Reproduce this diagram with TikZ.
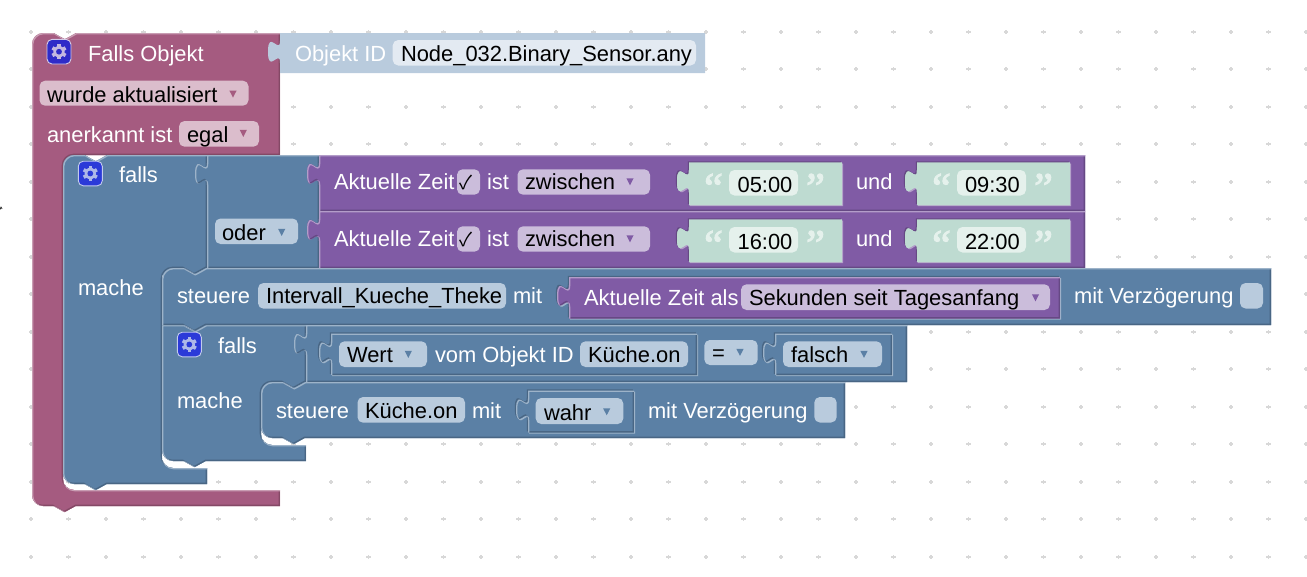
\documentclass[tikz,border=0pt]{standalone}
\usepackage{fontspec}
\setmainfont{Liberation Sans}
\newfontfamily\qfont{Liberation Serif}[FakeBold=2.5]
\newfontfamily\ckfont{Noto Sans CJK SC}
\definecolor{pinkb}{HTML}{A55B80}\definecolor{pinkd}{HTML}{844966}\definecolor{pinkl}{HTML}{C99DB3}\definecolor{pinkf}{HTML}{DBBDCC}
\definecolor{blueb}{HTML}{5B80A5}\definecolor{blued}{HTML}{496684}\definecolor{bluel}{HTML}{9DB3C9}\definecolor{bluef}{HTML}{B9CBDD}
\definecolor{purb}{HTML}{805BA5}\definecolor{purd}{HTML}{664984}\definecolor{purl}{HTML}{B39DC9}\definecolor{purf}{HTML}{CBBDDB}
\definecolor{grnb}{HTML}{BEDBD1}\definecolor{grnf}{HTML}{E5F1EC}
\definecolor{idb}{HTML}{B9CBDD}\definecolor{idf}{HTML}{E3EAF2}
\definecolor{dotc}{HTML}{D8D8D8}
\definecolor{iconA}{HTML}{2F2BC8}\definecolor{cogA}{HTML}{C4B8E0}
\definecolor{iconB}{HTML}{2B3AD8}\definecolor{cogB}{HTML}{AEB8E8}
\tikzset{
  lab/.style={anchor=base west,inner sep=0pt,outer sep=0pt,yshift=-.6pt,font=\fontsize{21.9}{24}\selectfont},
  wht/.style={lab,text=white},
  blk/.style={lab,text=black},
  quo/.style={anchor=base west,inner sep=0pt,text=grnf,font=\qfont\fontsize{42}{42}\selectfont},
}
% tab going upwards, ends at (x,y0)
\newcommand\tabup[2]{.. controls (#1,#2+7.5) and (#1-12,#2+34.5) .. (#1-12,#2+11.25) .. controls (#1-12,#2-12) and (#1,#2+15) .. (#1,#2)}
\newcommand\valpath[4]{(#1,#2) -- (#3,#2) -- (#3,#4) -- (#1,#4) -- (#1,#2+30) \tabup{#1}{#2+7.5} -- cycle}
% notch, going rightwards (top edge) from x at height y
\newcommand\nr[2]{-- (#1+21.5,#2) -- (#1+30.5,#2+5) .. controls (#1+32.5,#2+6.5) .. (#1+35,#2+5) -- (#1+44,#2)}
% notch going leftwards
\newcommand\nl[2]{-- (#1+44,#2) -- (#1+35,#2+5) .. controls (#1+32.5,#2+6.5) .. (#1+30.5,#2+5) -- (#1+21.5,#2)}
% round corner from the current point (x0,y0) about the corner (cx,cy) to (x1,y1)
\newcommand\rc[6]{.. controls ({#1+.55*(#3-#1)},{#2+.55*(#4-#2)}) and ({#5+.55*(#3-#5)},{#6+.55*(#4-#6)}) .. (#5,#6)}
\newcommand\block[4]{\begin{scope}
  \clip #4;
  \fill[#1] #4;
  \begin{scope}[shift={(-.65,-.65)}]\draw[#2,line width=1.3pt] #4;\end{scope}
  \begin{scope}[shift={(.65,.65)}]\draw[#3,line width=1.3pt] #4;\end{scope}
\end{scope}}
% value block seated in a parent socket
\newcommand\seated[9]{%
  \begin{scope}[shift={(-1.2,-1.2)}]\fill[#8] \valpath{#1}{#2}{#3}{#4};\end{scope}
  \begin{scope}[shift={(1.2,1.2)}]\fill[#9] \valpath{#1}{#2}{#3}{#4};\end{scope}
  \block{#5}{#6}{#7}{\valpath{#1}{#2}{#3}{#4}}}
% field: x1 y1 x2 y2 colour
\newcommand\fld[5]{\fill[#5,rounded corners=5.5pt] (#1,#2) rectangle (#3,#4);}
\newcommand\drop[3]{\fill[#3] (#1-3.6,#2-3.4) -- (#1+3.6,#2-3.4) -- (#1,#2+3.6) -- cycle;}
\newcommand\gearicon[4]{\begin{scope}[shift={(#1,#2)}]
  \filldraw[draw=#4!75!white,fill=#3,line width=.9pt,rounded corners=5pt] (-12,-12.3) rectangle (12,12.3);
  \foreach \a in {30,90,...,330}{\draw[#4,line width=3.6pt] (0,0) -- (\a:7.6);}
  \fill[#4] (0,0) circle[radius=5.7];
  \fill[#3] (0,0) circle[radius=2.9];
\end{scope}}
\begin{document}
\begin{tikzpicture}[x=1pt,y=-1pt]
\useasboundingbox (0,0) rectangle (1307,576);
% grid dots
\foreach \i in {0,...,34}{\foreach \j in {0,...,14}{
  \fill[dotc] ({31+37.5*\i-2.2},{31.7+37.5*\j-.8}) rectangle ({31+37.5*\i+2.2},{31.7+37.5*\j+.8});
  \fill[dotc] ({31+37.5*\i-.8},{31.7+37.5*\j-2.2}) rectangle ({31+37.5*\i+.8},{31.7+37.5*\j+2.2});
}}
\draw[black,line width=.6pt] (0,209.5) -- (1,207) -- (2.2,209);
% pink hat block
\block{pinkb}{pinkd}{pinkl}{(32,44) \rc{32}{44}{32}{33}{43}{33} \nr{32}{33} -- (280,33) -- (280,155) -- (74,155) \rc{74}{155}{63}{155}{63}{166} -- (63,479) \rc{63}{479}{63}{490}{74}{490} -- (280,490) -- (280,506) \nl{32}{506} -- (43,506) \rc{43}{506}{32}{506}{32}{495} -- cycle}
% Objekt ID block
\fill[idb] \valpath{280}{33}{705}{73};
% outer falls
\block{blueb}{blued}{bluel}{(63,166) \rc{63}{166}{63}{155}{74}{155} \nr{63}{155} -- (207,155) -- (207,268) \nl{162}{268} -- (173,268) \rc{173}{268}{162}{268}{162}{279} -- (162,457) \rc{162}{457}{162}{468}{173}{468} -- (207,468) -- (207,484) \nl{63}{484} -- (74,484) \rc{74}{484}{63}{484}{63}{473} -- cycle}
% oder
\block{blueb}{blued}{bluel}{\valpath{207}{155}{319}{268}}
% time blocks
\block{purb}{purd}{purl}{\valpath{319}{155}{1085}{211}}
\block{purb}{purd}{purl}{\valpath{319}{211}{1085}{268}}
\seated{689}{162.5}{842}{205}{grnb}{grnb}{grnb}{purd}{purl}
\seated{917}{162.5}{1070}{205}{grnb}{grnb}{grnb}{purd}{purl}
\seated{689}{219.5}{842}{262}{grnb}{grnb}{grnb}{purd}{purl}
\seated{917}{219.5}{1070}{262}{grnb}{grnb}{grnb}{purd}{purl}
% inner falls
\block{blueb}{blued}{bluel}{(162,325) \nr{162}{325} -- (306,325) -- (306,382) \nl{261}{382} -- (272,382) \rc{272}{382}{261}{382}{261}{393} -- (261,434) \rc{261}{434}{261}{445}{272}{445} -- (306,445) -- (306,461) \nl{162}{461} -- (173,461) \rc{173}{461}{162}{461}{162}{450} -- cycle}
% steuere 1
\block{blueb}{blued}{bluel}{(162,279) \rc{162}{279}{162}{268}{173}{268} \nr{162}{268} -- (1271,268) -- (1271,325) \nl{162}{325} -- (162,325) -- cycle}
\seated{569}{277}{1060}{318.5}{purb}{purd}{purl}{blued}{bluel}
% compare
\block{blueb}{blued}{bluel}{\valpath{306}{325}{907}{382}}
\seated{331}{333.5}{697}{375}{blueb}{blued}{bluel}{blued}{bluel}
\seated{775}{333.5}{892}{375}{blueb}{blued}{bluel}{blued}{bluel}
% steuere 2
\block{blueb}{blued}{bluel}{(261,393) \rc{261}{393}{261}{382}{272}{382} \nr{261}{382} -- (845,382) -- (845,438) \nl{261}{438} -- (272,438) \rc{272}{438}{261}{438}{261}{427} -- cycle}
\seated{528}{390.5}{634}{432.5}{blueb}{blued}{bluel}{blued}{bluel}
% icons
\gearicon{59}{51.7}{iconA}{cogA}
\gearicon{90.3}{173.5}{iconB}{cogB}
\gearicon{189.3}{344.5}{iconB}{cogB}
% fields
\fld{39.5}{80.7}{248.5}{105.7}{pinkf}
\fld{179}{121}{259}{146.7}{pinkf}
\fld{392.7}{40}{696}{65.5}{idf}
\fld{215}{218.5}{298}{244}{bluef}
\fld{457}{169.3}{480}{194.7}{purf}
\fld{517.5}{169.3}{650}{194.7}{purf}
\fld{457}{226.3}{480}{251.7}{purf}
\fld{517.5}{226.3}{650}{251.7}{purf}
\fld{729}{170}{798}{195.5}{grnf}
\fld{957}{170}{1026}{195.5}{grnf}
\fld{729}{227}{798}{252.5}{grnf}
\fld{957}{227}{1026}{252.5}{grnf}
\fld{258}{283}{506}{308.7}{bluef}
\fld{741}{284.3}{1050}{310}{purf}
\fld{1240}{283}{1263}{308.5}{bluef}
\fld{339}{341.3}{427}{367}{bluef}
\fld{580}{341.3}{688}{367}{bluef}
\fld{704.3}{340}{757.7}{365}{bluef}
\fld{783}{341.3}{882}{367}{bluef}
\fld{357.5}{397}{465}{422.7}{bluef}
\fld{535.7}{398}{623.3}{424}{bluef}
\fld{814.3}{397}{836.7}{422.5}{bluef}
% drop arrows
\drop{233}{94}{pinkb}\drop{243.3}{133.3}{pinkb}
\drop{630}{181.7}{purb}\drop{630}{238.7}{purb}
\drop{281.7}{232.3}{blueb}\drop{1035.5}{297.7}{purb}
\drop{408.3}{354.3}{blueb}\drop{740}{352.3}{blueb}\drop{864}{354.3}{blueb}\drop{606.7}{411.7}{blueb}
% labels
\node[wht] (falls0) at (88,60.7) {Falls Objekt};
\node[blk] (wurde) at (47,101.7) {wurde aktualisiert};
\node[wht] (anerk) at (47,141.7) {anerkannt ist};
\node[blk] (egal) at (187,141.7) {egal};
\node[wht] (oid) at (295,61) {Objekt ID};
\node[blk] (node) at (401,61) {Node\_032.Binary\_Sensor.any};
\node[wht] (falls1) at (119,182.3) {falls};
\node[wht] (mache1) at (78,295) {mache};
\node[blk] (oder) at (222,240) {oder};
\foreach \n/\y/\ta/\tb/\ab in {a/189.3/05:00/09:30/191.7,b/246.3/16:00/22:00/248.7}{
  \node[wht] (zeit\n) at (334,\y) {Aktuelle Zeit};
  \node[blk,font=\ckfont\fontsize{19}{24}\selectfont] (chk\n) at (459,\y) {✓};
  \node[wht] (ist\n) at (487,\y) {ist};
  \node[blk] (zw\n) at (525,\y) {zwischen};
  \node[quo] (qa\n) at (704,\y+12.5) {“};
  \node[blk] (ta\n) at (737.6,\ab) {\ta};
  \node[quo] (qb\n) at (806,\y+12.5) {”};
  \node[wht] (und\n) at (856,\y) {und};
  \node[quo] (qc\n) at (932,\y+12.5) {“};
  \node[blk] (tb\n) at (965,\ab) {\tb};
  \node[quo] (qd\n) at (1034,\y+12.5) {”};
}
\node[wht] (st1) at (177,303.3) {steuere};
\node[blk] (iv) at (266,303.3) {Intervall\_Kueche\_Theke};
\node[wht] (mit1) at (513,303.3) {mit};
\node[wht] (alszeit) at (584,305) {Aktuelle Zeit als};
\node[blk] (sek) at (749,305) {Sekunden seit Tagesanfang};
\node[wht] (mv1) at (1074,303.3) {mit Verzögerung};
\node[wht] (falls2) at (218,353.3) {falls};
\node[wht] (mache2) at (177,408.3) {mache};
\node[blk] (wert) at (347,362.3) {Wert};
\node[wht] (vom) at (435,362.3) {vom Objekt ID};
\node[blk] (ku1) at (588,362.3) {Küche.on};
\node[blk] (eq) at (712,360) {=};
\node[blk] (falsch) at (791,362.3) {falsch};
\node[wht] (st2) at (276,417.7) {steuere};
\node[blk] (ku2) at (365,417.7) {Küche.on};
\node[wht] (mit2) at (472,417.7) {mit};
\node[blk] (wahr) at (544,420) {wahr};
\node[wht] (mv2) at (648,417.7) {mit Verzögerung};
\end{tikzpicture}
\end{document}
